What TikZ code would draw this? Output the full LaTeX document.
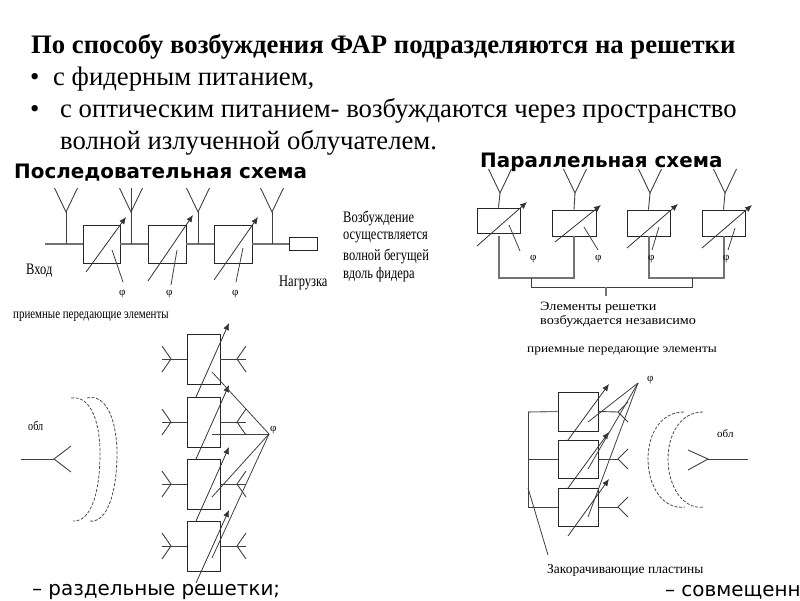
\documentclass[tikz,border=0pt]{standalone}
\usepackage{fontspec}
\setmainfont{Liberation Serif}
\newfontfamily\headsans{DejaVu Sans}
\newfontfamily\condserif[FakeStretch=0.78]{Liberation Serif}
\newfontfamily\wideserif[FakeStretch=1.12]{Liberation Serif}
\usetikzlibrary{arrows.meta}
\tikzset{
  wire/.style={draw=black!75,line width=0.9pt},
  feed/.style={draw=black!55,line width=1.1pt},
  phase/.style={draw=black!80,line width=0.8pt,-{Latex[length=7pt,width=6pt]}},
  leader/.style={draw=black!75,line width=0.8pt},
  pbox/.style={draw=black!85,line width=0.9pt,fill=none,inner sep=0pt,minimum width=#1},
  pbox/.default=37pt,
  wave/.style={draw=black!70,line width=0.8pt,dash pattern=on 3pt off 1.6pt},
  txt/.style={anchor=west,inner sep=0pt,text=black,yshift=-2pt},
  ytype/.pic={\draw[wire] (-11.5,-24)--(0,0)--(11.5,-24);},
  forkleft/.pic={\draw[wire] (-9,-13)--(0,0)--(-9,13);},
  forkright/.pic={\draw[wire] (9,-13)--(0,0)--(9,13);}
}
\begin{document}
\begin{tikzpicture}[x=1pt,y=-1pt]
\useasboundingbox (0,0) rectangle (800,600);
% text block
\node[txt,font=\fontsize{26.7}{26.7}\selectfont\bfseries] (t1) at (31,45) {По способу возбуждения ФАР подразделяются на решетки};
\node[txt,font=\fontsize{26.7}{26.7}\selectfont] (b1) at (30,77) {•};
\node[txt,font=\fontsize{26.7}{26.7}\selectfont] (t2) at (53,77) {с фидерным питанием,};
\node[txt,font=\fontsize{26.7}{26.7}\selectfont] (b2) at (30,109) {•};
\node[txt,font=\fontsize{26.7}{26.7}\selectfont] (t3) at (60,109) {с оптическим питанием- возбуждаются через пространство};
\node[txt,font=\fontsize{26.7}{26.7}\selectfont] (t4) at (60,141) {волной излученной облучателем.};
\node[txt,font=\fontsize{19.9}{19.9}\selectfont\headsans\bfseries] (h1) at (14,171) {Последовательная схема};
\node[txt,font=\fontsize{19.9}{19.9}\selectfont\headsans\bfseries] (h2) at (480,160) {Параллельная схема};

% series scheme
\node[pbox=37pt,minimum height=38pt] (s1) at (101.5,244) {};
\node[pbox=38pt,minimum height=38pt] (s2) at (167,244) {};
\node[pbox=38pt,minimum height=38pt] (s3) at (233,244) {};
\node[pbox=28pt,minimum height=13pt] (load) at (303,244) {};
\coordinate (in) at (45,244);
\draw[feed] (in)--(s1.west);
\draw[feed] (s1.east)--(s2.west);
\draw[feed] (s2.east)--(s3.west);
\draw[feed] (s3.east)--(load.west);
\coordinate (j1) at (66,212); \coordinate (j2) at (131,212); \coordinate (j3) at (198,212); \coordinate (j4) at (272,212);
\foreach \j/\p in {j1/66,j2/131,j3/198,j4/272}{
  \pic at (\j) {ytype};
  \draw[wire] (\j)--(\p,244);
}
\draw[wire] (j2)--(131,188);
\draw[phase] (86,272)--(126,217);
\draw[phase] (148,281)--(193,215);
\draw[phase] (214,280)--(258,217);
\draw[leader] (112,250)--(123,282);
\draw[leader] (177,250)--(171,285);
\draw[leader] (243,248)--(236,282);
\node[txt,font=\fontsize{16}{16}\selectfont\condserif] (vh) at (26,269) {Вход};
\node[txt,font=\fontsize{16}{16}\selectfont\condserif] (ng) at (279,281) {Нагрузка};
\node[txt,font=\fontsize{11}{11}\selectfont] (f1) at (119,292) {φ};
\node[txt,font=\fontsize{11}{11}\selectfont] (f2) at (166,292) {φ};
\node[txt,font=\fontsize{11}{11}\selectfont] (f3) at (232,292) {φ};
\node[txt,font=\fontsize{16}{16}\selectfont\condserif] (d1) at (343,216) {Возбуждение};
\node[txt,font=\fontsize{16}{16}\selectfont\condserif] (d2) at (343,235) {осуществляется};
\node[txt,font=\fontsize{16}{16}\selectfont\condserif] (d3) at (343,254) {волной  бегущей};
\node[txt,font=\fontsize{16}{16}\selectfont\condserif] (d4) at (343,273) {вдоль фидера};
\node[txt,font=\fontsize{14}{14}\selectfont\condserif] (pl) at (13,315) {приемные передающие элементы};

% parallel scheme
\node[pbox=43pt,minimum height=25pt] (p1) at (498.5,220.5) {};
\node[pbox=44pt,minimum height=26pt] (p2) at (574,223) {};
\node[pbox=43pt,minimum height=26pt] (p3) at (648.5,223) {};
\node[pbox=43pt,minimum height=26pt] (p4) at (723.5,223) {};
\foreach \n/\x in {p1/500,p2/575,p3/650,p4/725}{
  \coordinate (a\n) at (\x,193);
  \pic at (a\n) {ytype={}};
  \draw[wire] (a\n)--(\n.north);
}
\draw[phase] (477,246)--(527,202);
\draw[phase] (555,242)--(601,205);
\draw[phase] (627,248)--(678,204);
\draw[phase] (702,248)--(752,205);
\draw[leader] (509,225)--(520,251);
\draw[leader] (584,227)--(598,250);
\draw[leader] (659,227)--(652,250);
\draw[leader] (735,228)--(728,250);
\coordinate (bus1) at (531,278); \coordinate (bus2) at (692,278);
\coordinate (bus) at (606,287);
\draw[feed] (499,236)--(499,278)--(574,278)--(574,236);
\draw[feed] (649,236)--(649,278)--(724,278)--(724,236);
\draw[wire] (bus1)--(531,287)--(692,287)--(bus2);
\draw[feed] (bus)--(606,296);
\node[txt,font=\fontsize{11}{11}\selectfont] (pf1) at (530,257) {φ};
\node[txt,font=\fontsize{11}{11}\selectfont] (pf2) at (595,257) {φ};
\node[txt,font=\fontsize{11}{11}\selectfont] (pf3) at (648,257) {φ};
\node[txt,font=\fontsize{11}{11}\selectfont] (pf4) at (723,257) {φ};
\node[txt,font=\fontsize{12.7}{12.7}\selectfont\wideserif] (e1) at (540,306) {Элементы решетки};
\node[txt,font=\fontsize{12.7}{12.7}\selectfont\wideserif] (e2) at (540,319) {возбуждается независимо};
\node[txt,font=\fontsize{11.9}{11.9}\selectfont\wideserif] (pr) at (527,349) {приемные передающие элементы};

% separate arrays
\foreach \n/\y/\ay in {r1/359/359,r2/422/422,r3/484/484,r4/546/546}{
  \node[pbox=33pt,minimum height=50pt] (\n) at (203.5,\y) {};
  \coordinate (\n l) at (171,\ay);
  \coordinate (\n r) at (237,\ay);
  \pic at (\n l) {forkleft};
  \pic at (\n r) {forkright};
  \draw[wire] (\n.west)--(162,\ay);
  \draw[wire] (\n.east)--(246,\ay);
}
\draw[phase] (196,397)--(229,323);
\draw[phase] (196,459)--(229,385);
\draw[phase] (196,521)--(229,447);
\draw[phase] (196,583)--(229,510);
\coordinate (rphi) at (269,434);
\draw[leader] (rphi)--(212,372);
\draw[leader] (rphi)--(212,434);
\draw[leader] (rphi)--(212,497);
\draw[leader] (rphi)--(212,558);
\node[txt,font=\fontsize{11}{11}\selectfont] (rf) at (270,428) {φ};
\node[txt,font=\fontsize{13}{13}\selectfont\condserif] (ob1) at (28,424) {обл};
\coordinate (o1) at (54,459);
\draw[wire] (21,459)--(o1);
\draw[wire] (71,446)--(o1)--(71,472);
\draw[wave] (71,398) .. controls (92,395) and (100,425) .. (100,453) .. controls (100,490) and (92,522) .. (73,521);
\draw[wave] (87,398) .. controls (108,393) and (117,425) .. (117,453) .. controls (117,490) and (108,524) .. (89,521);
\node[txt,font=\fontsize{19.9}{19.9}\selectfont\headsans] (c1) at (32,590) {– раздельные решетки;};

% combined array
\node[pbox=40pt,minimum height=39pt] (q1) at (578,411.5) {};
\node[pbox=40pt,minimum height=38pt] (q2) at (578,459) {};
\node[pbox=40pt,minimum height=38pt] (q3) at (578,507) {};
\coordinate (qbus) at (528,412);
\draw[feed] (qbus)--(q1.west);
\draw[wire] (qbus)--(528,507)--(q3.west);
\draw[wire] (528,459)--(q2.west);
\foreach \n/\y in {q1/412,q2/459,q3/507}{
  \coordinate (\n f) at (618,\y);
  \draw[wire] (\n.east)--(\n f);
  \draw[wire] (628,\y-10)--(\n f)--(628,\y+10);
}
\draw[phase] (568,440)--(609,384);
\draw[phase] (568,488)--(609,432);
\draw[phase] (568,536)--(609,479);
\coordinate (qphi) at (638,383);
\draw[leader] (qphi)--(588,422);
\draw[leader] (qphi)--(588,469);
\draw[leader] (qphi)--(588,517);
\node[txt,font=\fontsize{11}{11}\selectfont] (qf) at (647,378) {φ};
\draw[wave] (684,412) .. controls (660,412) and (648,435) .. (648,459) .. controls (648,485) and (662,510) .. (685,507);
\draw[wave] (703,412) .. controls (680,412) and (668,435) .. (668,459) .. controls (668,485) and (682,510) .. (704,507);
\coordinate (o2) at (708,459);
\draw[wire] (748,459)--(o2);
\draw[wire] (688,450)--(o2)--(688,470);
\node[txt,font=\fontsize{11}{11}\selectfont] (ob2) at (717,432) {обл};
\draw[leader] (528,488)--(548,555);
\node[txt,font=\fontsize{13.5}{13.5}\selectfont] (zk) at (547,568) {Закорачивающие пластины};
\begin{scope}
\clip (0,0) rectangle (800,600);
\node[txt,font=\fontsize{19.9}{19.9}\selectfont\headsans] (c2) at (665,590) {– совмещенн};
\end{scope}
\end{tikzpicture}
\end{document}
